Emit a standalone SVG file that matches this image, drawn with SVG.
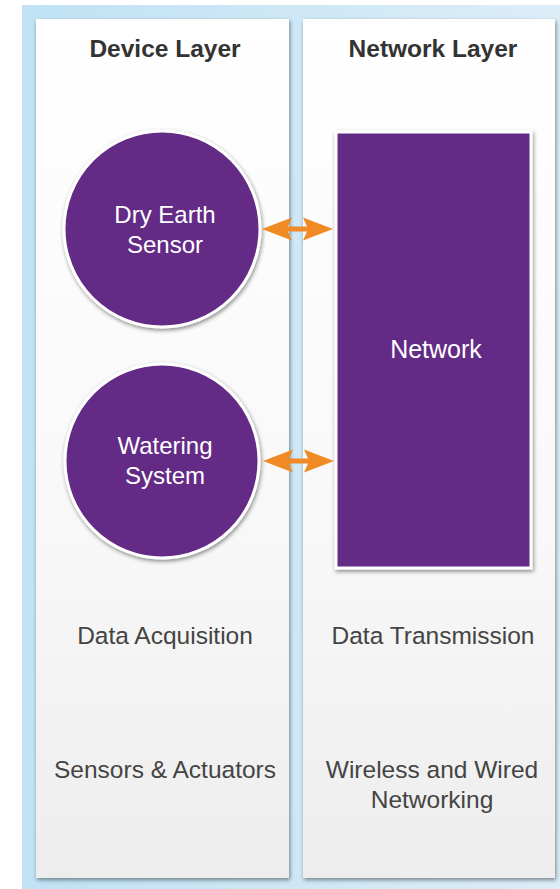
<svg xmlns="http://www.w3.org/2000/svg" width="560" height="889" viewBox="0 0 560 889">
<defs>
<linearGradient id="bg" x1="0" y1="0" x2="1" y2="0">
<stop offset="0" stop-color="#c0e2f4"/>
<stop offset="1" stop-color="#dcedf8"/>
</linearGradient>
<linearGradient id="panel" x1="0" y1="0" x2="0" y2="1">
<stop offset="0" stop-color="#ffffff"/>
<stop offset="0.6" stop-color="#f8f8f8"/>
<stop offset="1" stop-color="#eeeded"/>
</linearGradient>
<filter id="sh" x="-10%" y="-10%" width="130%" height="130%">
<feGaussianBlur in="SourceAlpha" stdDeviation="2"/>
<feOffset dx="1" dy="2" result="b"/>
<feComponentTransfer><feFuncA type="linear" slope="0.45"/></feComponentTransfer>
<feMerge><feMergeNode/><feMergeNode in="SourceGraphic"/></feMerge>
</filter>
<path id="dbl" d="M0,0 L30,-11.5 L26,-2.5 L45,-2.5 L41,-11.5 L71,0 L41,11.5 L45,2.5 L26,2.5 L30,11.5 Z" fill="#f08a24"/>
</defs>
<style>
.hdr{font-family:"Liberation Sans",Arial,sans-serif;font-size:24.5px;font-weight:bold;fill:#333;text-anchor:middle}
.lbl{font-family:"Liberation Sans",Arial,sans-serif;font-size:24.5px;fill:#444;text-anchor:middle}
.wt{font-family:"Liberation Sans",Arial,sans-serif;font-size:24px;fill:#fff;text-anchor:middle}
.node{fill:#632a86;stroke:#fff;stroke-width:3}
</style>
<rect x="22" y="5" width="538" height="884" fill="url(#bg)"/>
<g id="device-layer">
<rect x="36" y="19" width="253" height="859" fill="url(#panel)" filter="url(#sh)"/>
<text class="hdr" x="165" y="57">Device Layer</text>
<text class="lbl" x="165" y="644">Data Acquisition</text>
<text class="lbl" x="165" y="778">Sensors &amp; Actuators</text>
</g>
<g id="network-layer">
<rect x="303" y="19" width="252" height="859" fill="url(#panel)" filter="url(#sh)"/>
<text class="hdr" x="433" y="57">Network Layer</text>
<text class="lbl" x="433" y="644">Data Transmission</text>
<text class="lbl" x="432" y="778">Wireless and Wired</text>
<text class="lbl" x="432" y="808">Networking</text>
</g>
<g id="dry-earth-sensor">
<circle class="node" cx="162" cy="229" r="98" filter="url(#sh)"/>
<text class="wt" x="165" y="223">Dry Earth</text>
<text class="wt" x="165" y="253">Sensor</text>
</g>
<g id="watering-system">
<circle class="node" cx="162" cy="461" r="97" filter="url(#sh)"/>
<text class="wt" x="165" y="454">Watering</text>
<text class="wt" x="165" y="484">System</text>
</g>
<g id="network">
<rect class="node" x="336" y="132" width="195" height="436" filter="url(#sh)"/>
<text class="wt" x="436" y="358" style="font-size:25px">Network</text>
</g>
<g id="connectors">
<use href="#dbl" x="262" y="229"/>
<use href="#dbl" x="263" y="461"/>
</g>
</svg>
